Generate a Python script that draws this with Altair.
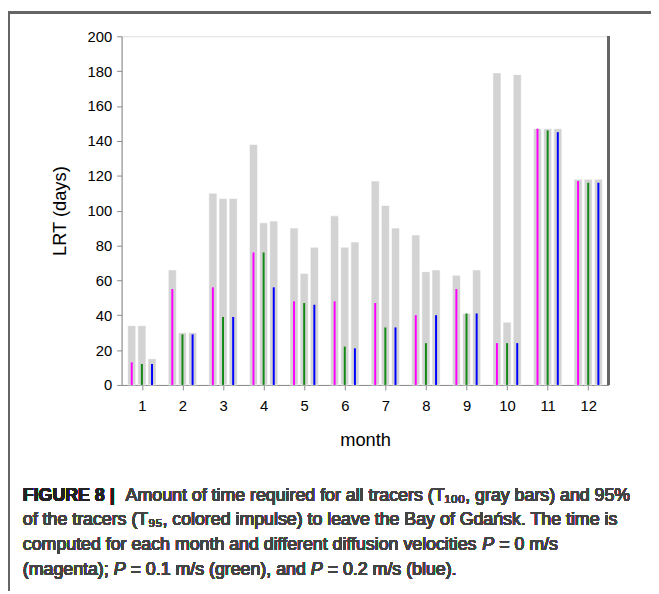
import altair as alt
import pandas as pd

# ---- data ----
months = [1, 2, 3, 4, 5, 6, 7, 8, 9, 10, 11, 12]
series = ["P = 0 m/s", "P = 0.1 m/s", "P = 0.2 m/s"]
t100_p0 = [34, 66, 110, 138, 90, 97, 117, 86, 63, 179, 147, 118]
t100_p1 = [34, 30, 107, 93, 64, 79, 103, 65, 41, 36, 147, 118]
t100_p2 = [15, 30, 107, 94, 79, 82, 90, 66, 66, 178, 147, 118]
t95_p0 = [13, 55, 56, 76, 48, 48, 47, 40, 55, 24, 147, 117]
t95_p1 = [12, 29, 39, 76, 47, 22, 33, 24, 41, 24, 146, 116]
t95_p2 = [12, 29, 39, 56, 46, 21, 33, 40, 41, 24, 145, 116]
series_colors = ["#ff00ff", "#138a13", "#0000ff"]
y_ticks = [0, 20, 40, 60, 80, 100, 120, 140, 160, 180, 200]

# caption: lines made of (text, style) pieces
caption_lines = [
    [("FIGURE 8 |", "bold"),
     (" Amount of time required for all tracers (T\u2081\u2080\u2080, gray bars) and 95%", "normal")],
    [("of the tracers (T\u2089\u2085, colored impulse) to leave the Bay of Gda\u0144sk. The time is", "normal")],
    [("computed for each month and different diffusion velocities ", "normal"),
     ("P", "italic"), (" = 0 m/s", "normal")],
    [("(magenta); ", "normal"), ("P", "italic"), (" = 0.1 m/s (green), and ", "normal"),
     ("P", "italic"), (" = 0.2 m/s (blue).", "normal")],
]

# Arial-compatible advance widths (per 1000 em) for measuring caption pieces
_W = {" ": 278, "(": 333, ")": 333, ",": 278, ".": 278, "/": 278, ";": 278, "=": 584,
      "%": 889, "|": 260, "A": 667, "P": 667, "T": 611, "B": 667, "G": 778, "F": 611,
      "I": 278, "U": 722, "R": 722, "E": 667,
      "a": 556, "b": 556, "c": 500, "d": 556, "e": 556, "f": 278, "g": 556, "h": 556,
      "i": 222, "k": 500, "l": 222, "m": 833, "n": 556, "o": 556, "p": 556, "q": 556,
      "r": 333, "s": 500, "t": 278, "u": 556, "v": 500, "w": 722, "y": 500, "\u0144": 556}
_WB = {"F": 611, "I": 278, "G": 778, "U": 722, "R": 722, "E": 667, " ": 278, "8": 556, "|": 280}


def text_width(s, size, bold=False):
    total = 0
    for ch in s:
        if bold:
            total += _WB.get(ch, 556)
        else:
            total += _W.get(ch, 556)
    return total * size / 1000.0


rows = []
t100 = [t100_p0, t100_p1, t100_p2]
t95 = [t95_p0, t95_p1, t95_p2]
for k, s in enumerate(series):
    for i, m in enumerate(months):
        rows.append({"month": m, "k": k, "series": s, "t100": t100[k][i], "t95": t95[k][i]})
df = pd.DataFrame(rows)

W, H = 493, 353

base = alt.Chart(df).transform_calculate(
    xc="datum.month + (datum.k - 1) * 0.25",
    xlo="datum.month + (datum.k - 1) * 0.25 - 0.1",
    xhi="datum.month + (datum.k - 1) * 0.25 + 0.1",
)

xscale = alt.Scale(domain=[0.5, 12.5], nice=False, zero=False)
yscale = alt.Scale(domain=[0, 200], nice=False)

xaxis = alt.Axis(values=months, title="month", labelFontSize=15, titleFontSize=18.5,
                 titleFontWeight="normal", tickSize=5, labelPadding=9,
                 titleX=W / 2, titleY=55, titleBaseline="middle", format="d", grid=False,
                 labelOverlap=False)
yaxis = alt.Axis(values=y_ticks, title="LRT (days)", labelFontSize=15, titleFontSize=18.5,
                 titleFontWeight="normal", tickSize=5, labelPadding=5,
                 titleX=-63, titleY=H / 2, titleAngle=-90, titleAlign="center",
                 titleBaseline="middle", grid=False, labelOverlap=False, labelBound=False)

bars = base.mark_bar(color="#d3d3d3", stroke="white", strokeWidth=0.6).encode(
    x=alt.X("xlo:Q", scale=xscale, axis=xaxis),
    x2="xhi:Q",
    y=alt.Y("t100:Q", scale=yscale, axis=yaxis),
    y2=alt.datum(0),
)

impulses = base.mark_rule(strokeWidth=2).encode(
    x=alt.X("xc:Q", scale=xscale, axis=xaxis),
    y=alt.Y("t95:Q", scale=yscale, axis=yaxis),
    y2=alt.datum(0),
    color=alt.Color("series:N", scale=alt.Scale(domain=series, range=series_colors), legend=None),
)

right_border = alt.Chart(df).mark_rule(color="#666666", strokeWidth=2).encode(
    x=alt.value(W), y=alt.value(0), y2=alt.value(H)
)

frame_top = alt.Chart(df).mark_rule(color="#666666", strokeWidth=1.6).encode(
    x=alt.value(-114.2), x2=alt.value(536), y=alt.value(-24.2)
)
frame_left = alt.Chart(df).mark_rule(color="#666666", strokeWidth=1.6).encode(
    x=alt.value(-114.2), y=alt.value(-24.2), y2=alt.value(561)
)

CAP_SIZE = 18
CAP_X0 = -100
CAP_Y0 = 470
CAP_DY = 25

cap_layers = []
for li, line in enumerate(caption_lines):
    cx = CAP_X0
    cy = CAP_Y0 + li * CAP_DY
    for txt, style in line:
        bold = style == "bold"
        lead = len(txt) - len(txt.lstrip(" "))
        core = txt.strip(" ")
        cx += text_width(" " * lead, CAP_SIZE)
        kw = dict(align="left", baseline="alphabetic", font="Liberation Sans",
                  fontSize=CAP_SIZE, color="#444444", text=core)
        if bold:
            kw["fontWeight"] = "bold"
            kw["color"] = "#222222"
        if style == "italic":
            kw["fontStyle"] = "italic"
        cap_layers.append(
            alt.Chart(df).mark_text(**kw).encode(x=alt.value(cx), y=alt.value(cy))
        )
        cx += text_width(core, CAP_SIZE, bold=bold)
        trail = len(txt) - len(txt.rstrip(" "))
        cx += text_width(" " * trail, CAP_SIZE)
        if bold:
            cx += 6

chart = alt.layer(bars, impulses, right_border, frame_top, frame_left, *cap_layers).properties(
    width=W, height=H,
    autosize=alt.AutoSizeParams(type="none"),
    padding={"left": 115, "top": 25, "right": 43, "bottom": 208},
).configure_view(
    stroke="#000000", strokeWidth=1
).configure_axis(
    domainColor="#666666", domainWidth=2, tickColor="#333333", labelColor="#000000",
    titleColor="#000000", labelFont="Liberation Sans", titleFont="Liberation Sans",
).configure(background="white")

chart.save("out.html", embed_options={"renderer": "svg", "actions": False})
